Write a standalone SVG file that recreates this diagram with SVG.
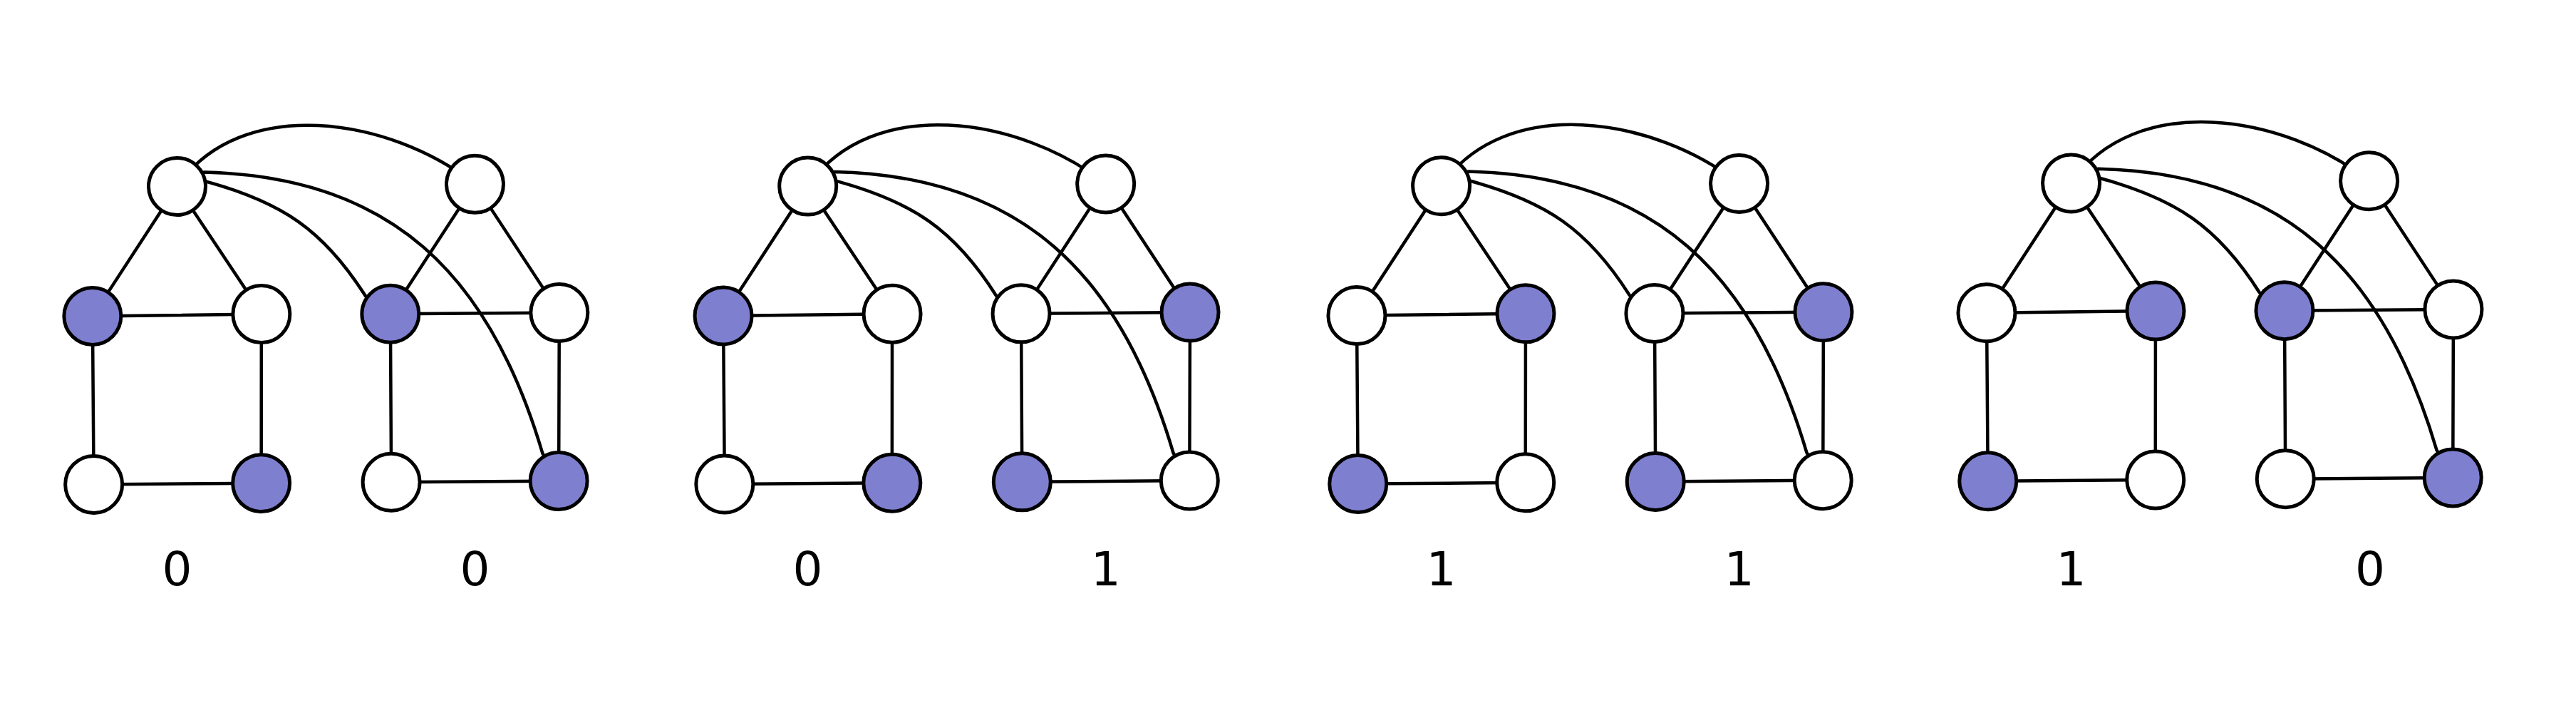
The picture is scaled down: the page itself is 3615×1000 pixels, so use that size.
<svg xmlns="http://www.w3.org/2000/svg" width="3615" height="1000" viewBox="0 0 3615 1000">
<style>
.e{fill:none;stroke:#000;stroke-width:4.5;stroke-linecap:round}
.w{fill:#fff;stroke:#000;stroke-width:5}
.b{fill:#7f7fd0;stroke:#000;stroke-width:5}
.lbl{font-family:"DejaVu Sans",sans-serif;font-size:66px;fill:#000;text-anchor:middle}
</style>
<defs>
<g id="edges">
<path d="M0,0 L118,180 M0,0 L-120,181 M418,0 L298,181 M418,0 L535,181 M-120,181 L117,180 M-120,181 L-120,417 M117,180 L115,417 M-120,417 L115,417 M298,181 L535,181 M298,181 L297.5,417 M535,181 L532.5,417 M297.5,417 L532.5,417"/>
<path d="M0,0 C90,-129 300,-95 418,0"/>
<path d="M0,0 L40.85,-6.6 C146.7,23.3 204.7,62 263,155.3 L298,181"/>
<path d="M0,0 L38,-19.8 C300,-11.9 437.7,126.3 510,378 L532.5,417"/>
</g>
</defs>
<rect width="3615" height="1000" fill="#fff"/>

<g id="panel1" transform="translate(248.5,261.5) rotate(-0.43)">
<g id="p1-connectors" class="e"><use href="#edges"/></g>
<g id="p1-A"><circle class="w" cx="0" cy="0" r="40"/></g>
<g id="p1-B"><circle class="w" cx="418" cy="0" r="40"/></g>
<g id="p1-C"><circle class="b" cx="-120" cy="181" r="40"/></g>
<g id="p1-D"><circle class="w" cx="117" cy="180" r="40"/></g>
<g id="p1-E"><circle class="b" cx="298" cy="181" r="40"/></g>
<g id="p1-F"><circle class="w" cx="535" cy="181" r="40"/></g>
<g id="p1-G"><circle class="w" cx="-120" cy="417" r="40"/></g>
<g id="p1-H"><circle class="b" cx="115" cy="417" r="40"/></g>
<g id="p1-I"><circle class="w" cx="297.5" cy="417" r="40"/></g>
<g id="p1-J"><circle class="b" cx="532.5" cy="417" r="40"/></g>
</g>

<g id="panel2" transform="translate(1133.7,261.1) rotate(-0.43)">
<g id="p2-connectors" class="e"><use href="#edges"/></g>
<g id="p2-A"><circle class="w" cx="0" cy="0" r="40"/></g>
<g id="p2-B"><circle class="w" cx="418" cy="0" r="40"/></g>
<g id="p2-C"><circle class="b" cx="-120" cy="181" r="40"/></g>
<g id="p2-D"><circle class="w" cx="117" cy="180" r="40"/></g>
<g id="p2-E"><circle class="w" cx="298" cy="181" r="40"/></g>
<g id="p2-F"><circle class="b" cx="535" cy="181" r="40"/></g>
<g id="p2-G"><circle class="w" cx="-120" cy="417" r="40"/></g>
<g id="p2-H"><circle class="b" cx="115" cy="417" r="40"/></g>
<g id="p2-I"><circle class="b" cx="297.5" cy="417" r="40"/></g>
<g id="p2-J"><circle class="w" cx="532.5" cy="417" r="40"/></g>
</g>

<g id="panel3" transform="translate(2022.6,260.7) rotate(-0.43)">
<g id="p3-connectors" class="e"><use href="#edges"/></g>
<g id="p3-A"><circle class="w" cx="0" cy="0" r="40"/></g>
<g id="p3-B"><circle class="w" cx="418" cy="0" r="40"/></g>
<g id="p3-C"><circle class="w" cx="-120" cy="181" r="40"/></g>
<g id="p3-D"><circle class="b" cx="117" cy="180" r="40"/></g>
<g id="p3-E"><circle class="w" cx="298" cy="181" r="40"/></g>
<g id="p3-F"><circle class="b" cx="535" cy="181" r="40"/></g>
<g id="p3-G"><circle class="b" cx="-120" cy="417" r="40"/></g>
<g id="p3-H"><circle class="w" cx="115" cy="417" r="40"/></g>
<g id="p3-I"><circle class="b" cx="297.5" cy="417" r="40"/></g>
<g id="p3-J"><circle class="w" cx="532.5" cy="417" r="40"/></g>
</g>

<g id="panel4" transform="translate(2906.6,256.9) rotate(-0.43)">
<g id="p4-connectors" class="e"><use href="#edges"/></g>
<g id="p4-A"><circle class="w" cx="0" cy="0" r="40"/></g>
<g id="p4-B"><circle class="w" cx="418" cy="0" r="40"/></g>
<g id="p4-C"><circle class="w" cx="-120" cy="181" r="40"/></g>
<g id="p4-D"><circle class="b" cx="117" cy="180" r="40"/></g>
<g id="p4-E"><circle class="b" cx="298" cy="181" r="40"/></g>
<g id="p4-F"><circle class="w" cx="535" cy="181" r="40"/></g>
<g id="p4-G"><circle class="b" cx="-120" cy="417" r="40"/></g>
<g id="p4-H"><circle class="w" cx="115" cy="417" r="40"/></g>
<g id="p4-I"><circle class="w" cx="297.5" cy="417" r="40"/></g>
<g id="p4-J"><circle class="b" cx="532.5" cy="417" r="40"/></g>
</g>

<g id="labels">
<text class="lbl" x="248.5" y="821">0</text>
<text class="lbl" x="666.5" y="821">0</text>
<text class="lbl" x="1133.5" y="821">0</text>
<text class="lbl" x="1551.7" y="821">1</text>
<text class="lbl" x="2022.5" y="821">1</text>
<text class="lbl" x="2440.8" y="821">1</text>
<text class="lbl" x="2906.6" y="821">1</text>
<text class="lbl" x="3326" y="821">0</text>
</g>
</svg>
